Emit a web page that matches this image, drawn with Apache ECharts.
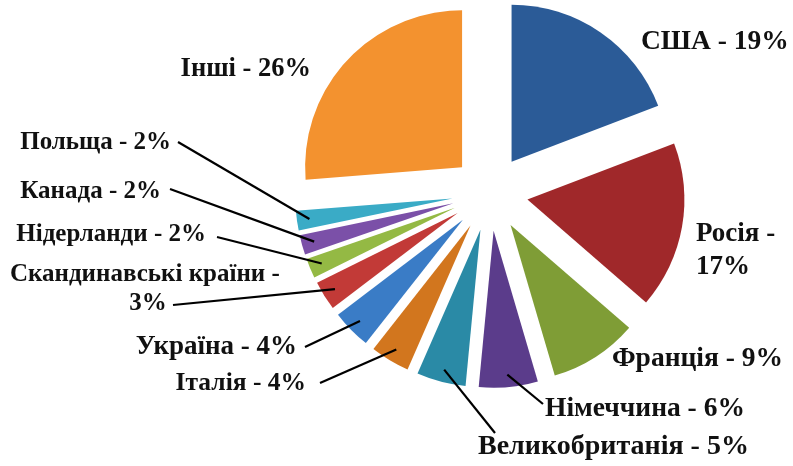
<!DOCTYPE html>
<html>
<head>
<meta charset="utf-8">
<script src="https://cdn.jsdelivr.net/npm/echarts@6/dist/echarts.min.js"></script>
<style>
html,body{margin:0;padding:0;background:#fff;}
#chart{width:793px;height:466px;}
</style>
</head>
<body>
<div id="chart"></div>
<script>
// ---- data ----
const categories = ['США','Росія','Франція','Німеччина','Великобританія','Італія','Україна','Скандинавські країни','Нідерланди','Канада','Польща','Інші'];
const values = [19,17,9,6,5,4,4,3,2,2,2,26];
const breakBeforePct = ['Росія','Скандинавські країни'];

// ---- styles ----
const colors = ['#2b5b97','#a0282a','#7f9d36','#5b3c8b','#2a8aa6','#d2761e','#3a7cc6','#c23a37','#94b944','#7b50a8','#3aabc6','#f3922f'];
const fontSizes = [27.5,27,27.5,27.5,28,25.5,27,25,25,25,25,26.5];
const lineHeights = [33,33,30,30,30,28,28,29,26,26,26,30];
// label anchor [x, y, align]
const labelPos = [
  [641,42,'left'],[696,251,'left'],[612,359,'left'],[545,409,'left'],[478,447,'left'],
  [306,383,'right'],[297,347,'right'],[148,289,'center'],[206,235,'right'],[161,192,'right'],
  [171,143,'right'],[311,69,'right']
];
// leader line start near label (null = no leader)
const leaderStart = [null,null,null,[543,404],[495,433],[320,383],[305,347],[173,305],[217,237],[170,189],[178,142],null];

const CX = 490, CY = 193, R = 157, OFFSET = 38;
const total = values.reduce((a,b)=>a+b,0);
const midAngles = [];
let acc = 0;
values.forEach(v => { midAngles.push((acc + v/2) / total * 2 * Math.PI); acc += v; });

const chart = echarts.init(document.getElementById('chart'), null, {renderer:'canvas'});
const FONT = '"Liberation Serif", "Times New Roman", serif';

function makeSeries(s, withLabel) {
  const dx = Math.sin(midAngles[s]), dy = -Math.cos(midAngles[s]);
  return {
    type: 'pie',
    name: categories[s] + (withLabel ? '-label' : ''),
    center: [CX + dx * OFFSET, CY + dy * OFFSET],
    radius: [0, R],
    startAngle: 90,
    clockwise: true,
    avoidLabelOverlap: false,
    emphasis: {disabled: true},
    silent: withLabel,
    z: withLabel ? 5 : 2,
    data: categories.map((c, i) => ({
      name: c,
      value: values[i],
      itemStyle: {color: (!withLabel && i === s) ? colors[i] : 'rgba(0,0,0,0)'},
      label: {show: withLabel && i === s, fontSize: fontSizes[i], lineHeight: lineHeights[i]},
      labelLine: {show: withLabel && i === s && leaderStart[i] !== null}
    })),
    label: {
      position: 'outside',
      fontFamily: FONT,
      fontWeight: 'bold',
      color: '#111',
      formatter: p => p.name + ' - ' + (breakBeforePct.includes(p.name) ? '\n' : '') + p.value + '%'
    },
    labelLine: {lineStyle: {color: '#000', width: 2.2}},
    labelLayout: function(params) {
      const i = params.dataIndex;
      if (!withLabel || i !== s) return {};
      const lp = labelPos[i];
      const out = {x: lp[0], y: lp[1], align: lp[2], verticalAlign: 'middle', hideOverlap: false, moveOverlap: false};
      if (leaderStart[i]) {
        const r = OFFSET + R * 0.92;
        const end = [CX + dx * r, CY + dy * r];
        out.labelLinePoints = [end, leaderStart[i], leaderStart[i]];
      }
      return out;
    }
  };
}

const series = [];
categories.forEach((c, s) => series.push(makeSeries(s, false)));
categories.forEach((c, s) => series.push(makeSeries(s, true)));

chart.setOption({
  animation: false,
  backgroundColor: '#ffffff',
  series: series
});
</script>
</body>
</html>
